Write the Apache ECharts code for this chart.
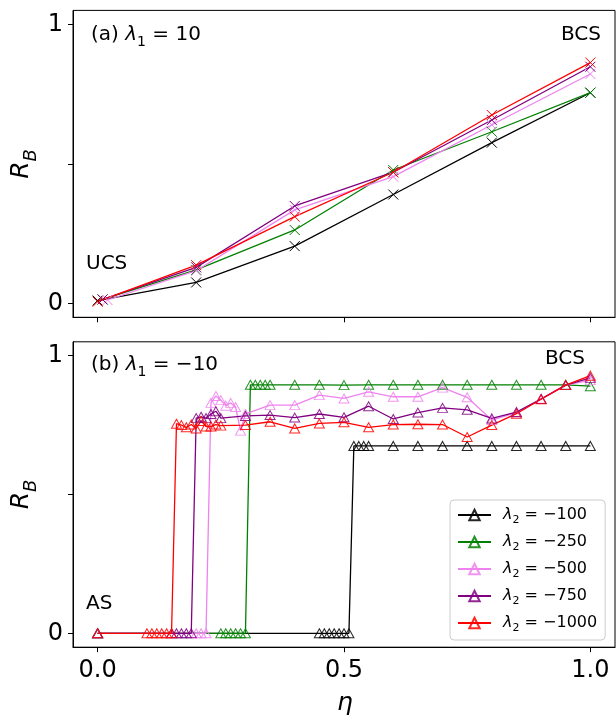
<!DOCTYPE html>
<html>
<head>
<meta charset="utf-8">
<script src="https://cdn.jsdelivr.net/npm/echarts@6/dist/echarts.min.js"></script>
<style>html,body{margin:0;padding:0;background:#fff}#c{width:616px;height:717px}</style>
</head>
<body>
<div id="c"></div>
<script>
// ---------- data: panel (a) lambda1 = 10 ----------
const etaA_black  = [0.00, 0.2, 0.4, 0.6, 0.8, 1.0];
const etaA_green  = [0.01, 0.2, 0.4, 0.6, 0.8, 1.0];
const etaA_violet = [0.02, 0.2, 0.4, 0.6, 0.8, 1.0];
const etaA_purple = [0.01, 0.2, 0.4, 0.6, 0.8, 1.0];
const etaA_red    = [0.00, 0.2, 0.4, 0.6, 0.8, 1.0];
const rA_black  = [0.010, 0.075, 0.205, 0.390, 0.576, 0.755];
const rA_green  = [0.014, 0.120, 0.263, 0.478, 0.615, 0.755];
const rA_violet = [0.012, 0.117, 0.335, 0.454, 0.640, 0.822];
const rA_purple = [0.014, 0.129, 0.349, 0.470, 0.657, 0.848];
const rA_red    = [0.006, 0.137, 0.311, 0.470, 0.675, 0.863];

// ---------- data: panel (b) lambda1 = -10 ----------
const etaB_black  = [0, 0.45,0.46,0.47,0.48,0.49,0.50,0.51, 0.52,0.53,0.54,0.55, 0.60,0.65,0.70,0.75,0.80,0.85,0.90,0.95,1.00];
const rB_black    = [0, 0,0,0,0,0,0,0, 0.675,0.675,0.675,0.675, 0.675,0.675,0.675,0.675,0.675,0.675,0.675,0.675,0.675];
const etaB_green  = [0, 0.25,0.26,0.27,0.28,0.29,0.30, 0.31,0.32,0.33,0.34,0.35, 0.40,0.45,0.50,0.55,0.60,0.65,0.70,0.75,0.80,0.85,0.90,0.95,1.00];
const rB_green    = [0, 0,0,0,0,0,0, 0.895,0.895,0.895,0.895,0.895, 0.895,0.895,0.894,0.895,0.895,0.895,0.895,0.895,0.895,0.895,0.895,0.895,0.890];
const etaB_violet = [0, 0.20,0.21,0.22, 0.23,0.24,0.25,0.26,0.27,0.28,0.29, 0.30,0.35,0.40,0.45,0.50,0.55,0.60,0.65,0.70,0.75,0.80,0.85,0.90,0.95,1.00];
const rB_violet   = [0, 0,0,0, 0.830,0.855,0.840,0.820,0.830,0.815,0.730, 0.790,0.822,0.822,0.858,0.846,0.870,0.852,0.852,0.885,0.850,0.768,0.795,0.845,0.894,0.912];
const etaB_purple = [0, 0.15,0.16,0.17,0.18,0.19, 0.20,0.21,0.22,0.23,0.24,0.25, 0.30,0.35,0.40,0.45,0.50,0.55,0.60,0.65,0.70,0.75,0.80,0.85,0.90,0.95,1.00];
const rB_purple   = [0, 0,0,0,0,0, 0.775,0.780,0.775,0.790,0.800,0.775, 0.783,0.786,0.777,0.790,0.778,0.818,0.772,0.795,0.812,0.805,0.774,0.797,0.844,0.894,0.920];
const etaB_red    = [0, 0.10,0.11,0.12,0.13,0.14,0.15, 0.16,0.17,0.18,0.19,0.20,0.21,0.22,0.23,0.24,0.25, 0.30,0.35,0.40,0.45,0.50,0.55,0.60,0.65,0.70,0.75,0.80,0.85,0.90,0.95,1.00];
const rB_red      = [0, 0,0,0,0,0,0, 0.755,0.750,0.742,0.752,0.738,0.765,0.745,0.745,0.752,0.748, 0.750,0.762,0.738,0.756,0.760,0.742,0.752,0.753,0.752,0.707,0.750,0.791,0.843,0.894,0.928];

const lambda2Labels = ['−100', '−250', '−500', '−750', '−1000'];
const seriesColors  = ['#000000', '#008000', '#ee82ee', '#800080', '#ff0000'];
const xTicks = [0, 0.5, 1];
const yTicks = [0, 0.5, 1];
const yLabels = [0, 1];

// ---------- chart ----------
const FONT = 'DejaVu Sans';
const chart = echarts.init(document.getElementById('c'), null, {renderer: 'canvas'});

function rich(fs, subPad) {
  const sfs = Math.round(fs * 0.7);
  return {
    n: {fontSize: fs, fontFamily: FONT, lineHeight: fs, verticalAlign: 'top', fill: '#000', color: '#000'},
    i: {fontSize: fs, fontFamily: FONT, fontStyle: 'italic', lineHeight: fs, verticalAlign: 'top', fill: '#000', color: '#000'},
    s: {fontSize: sfs, fontFamily: FONT, lineHeight: sfs, verticalAlign: 'top', padding: [subPad, 0, 0, 0], fill: '#000', color: '#000'},
    si: {fontSize: sfs, fontFamily: FONT, fontStyle: 'italic', lineHeight: sfs, verticalAlign: 'top', padding: [subPad, 0, 0, 0], fill: '#000', color: '#000'}
  };
}

const XMARK = 'path://M0,0L10,10M10,0L0,10';

function makeSeries(name, xs, ys, color, gi, isTop) {
  return {
    type: 'line', name: name, xAxisIndex: gi, yAxisIndex: gi,
    data: xs.map((x, i) => [x, ys[i]]),
    symbol: isTop ? XMARK : 'triangle',
    symbolSize: isTop ? 10 : [10, 9],
    showSymbol: true,
    lineStyle: {color: color, width: 1.3},
    itemStyle: {color: 'rgba(0,0,0,0)', borderColor: color, borderWidth: 1, opacity: isTop ? 1 : 0.85},
    emphasis: {disabled: true},
    animation: false,
    z: 2
  };
}

const topX = [etaA_black, etaA_green, etaA_violet, etaA_purple, etaA_red];
const topY = [rA_black, rA_green, rA_violet, rA_purple, rA_red];
const botX = [etaB_black, etaB_green, etaB_violet, etaB_purple, etaB_red];
const botY = [rB_black, rB_green, rB_violet, rB_purple, rB_red];

const series = [];
for (let k = 0; k < 5; k++) series.push(makeSeries('a' + k, topX[k], topY[k], seriesColors[k], 0, true));
for (let k = 0; k < 5; k++) series.push(makeSeries(lambda2Labels[k], botX[k], botY[k], seriesColors[k], 1, false));

function xAxis(gi) {
  return {
    type: 'value', gridIndex: gi, min: -0.05, max: 1.05,
    splitLine: {show: false},
    axisLine: {show: true, onZero: false, lineStyle: {color: '#000', width: 1}},
    axisTick: {show: true, length: 5, customValues: xTicks, lineStyle: {color: '#000', width: 1}},
    axisLabel: {show: gi === 1, customValues: xTicks, formatter: v => v.toFixed(1),
                fontSize: 24, fontFamily: FONT, color: '#000', margin: 12}
  };
}
function yAxis(gi) {
  return {
    type: 'value', gridIndex: gi, min: -0.05, max: 1.05,
    splitLine: {show: false},
    axisLine: {show: true, onZero: false, lineStyle: {color: '#000', width: 1}},
    axisTick: {show: true, length: 5, customValues: yTicks, lineStyle: {color: '#000', width: 1}},
    axisLabel: {show: true, customValues: yLabels, formatter: v => String(Math.round(v)),
                fontSize: 24, fontFamily: FONT, color: '#000', margin: 10}
  };
}

function txt(x, y, text, fs, align, rot) {
  const sp = Math.round(fs * 0.5);
  return {
    type: 'text', x: x, y: y, rotation: rot || 0, z: 100, silent: true,
    style: {
      text: text, rich: rich(fs, sp),
      font: fs + 'px "' + FONT + '"', fontSize: fs, fontFamily: FONT,
      fill: '#000',
      align: align, textAlign: align,
      verticalAlign: 'middle', textVerticalAlign: 'middle'
    }
  };
}

const legendRich = rich(16, 8);
legendRich.i = Object.assign({}, legendRich.i, {padding: [0, 0, 0, 7]});

const option = {
  backgroundColor: '#fff',
  animation: false,
  grid: [
    {left: 73, top: 10.4, width: 542, height: 306.9, show: true, borderColor: '#000', borderWidth: 1, backgroundColor: 'transparent'},
    {left: 73, top: 341.8, width: 542, height: 305.4, show: true, borderColor: '#000', borderWidth: 1, backgroundColor: 'transparent'}
  ],
  xAxis: [xAxis(0), xAxis(1)],
  yAxis: [yAxis(0), yAxis(1)],
  legend: {
    data: lambda2Labels,
    orient: 'vertical', left: 450, top: 500,
    itemWidth: 33, itemHeight: 13, itemGap: 8,
    padding: [7, 8, 6, 7],
    backgroundColor: 'rgba(255,255,255,0.8)', borderColor: '#cccccc', borderWidth: 1, borderRadius: 4,
    selectedMode: false,
    formatter: name => '{i|λ}{s|2}{n| = ' + name + '}',
    textStyle: {fontFamily: FONT, fontSize: 16, color: '#000', rich: legendRich}
  },
  series: series,
  graphic: [
    txt(21.5, 164, '{i|R}{si|B}', 25, 'center', Math.PI / 2),
    txt(21.5, 494.5, '{i|R}{si|B}', 25, 'center', Math.PI / 2),
    txt(345, 703, '{i|η}', 25, 'center'),
    txt(91, 35, '{n|(a) }{i|λ}{s|1}{n| = 10}', 20, 'left'),
    txt(601, 35, '{n|BCS}', 20, 'right'),
    txt(86, 264, '{n|UCS}', 20, 'left'),
    txt(91, 365, '{n|(b) }{i|λ}{s|1}{n| = −10}', 20, 'left'),
    txt(585, 359, '{n|BCS}', 20, 'right'),
    txt(86, 604, '{n|AS}', 20, 'left')
  ]
};
chart.setOption(option);
</script>
</body>
</html>
